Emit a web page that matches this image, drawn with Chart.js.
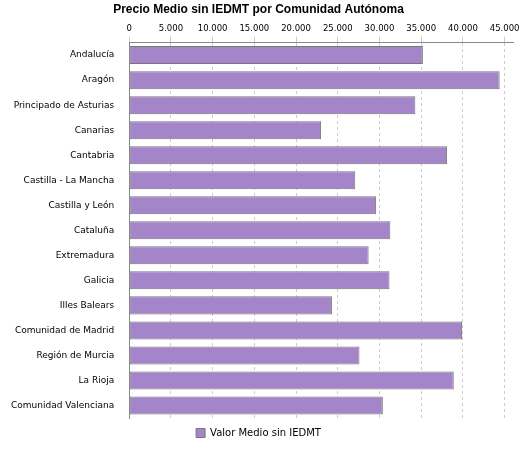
<!DOCTYPE html>
<html><head><meta charset="utf-8">
<script src="https://cdn.jsdelivr.net/npm/chart.js@4/dist/chart.umd.min.js"></script>
<style>body{margin:0;background:#fff}#w{width:525px;height:450px}</style></head>
<body><div id="w"><canvas id="c"></canvas></div>
<script>
const categories=["Andalucía","Aragón","Principado de Asturias","Canarias","Cantabria","Castilla - La Mancha","Castilla y León","Cataluña","Extremadura","Galicia","Illes Balears","Comunidad de Madrid","Región de Murcia","La Rioja","Comunidad Valenciana"];
const values=[35200,44400,34300,23000,38100,27100,29600,31300,28700,31200,24300,39900,27600,38900,30400];
const seriesName="Valor Medio sin IEDMT";
function fmt(v){const s=String(Math.round(v));return s.replace(/\B(?=(\d{3})+(?!\d))/g,'.');}
new Chart(document.getElementById('c'),{type:'bar',
data:{labels:categories,datasets:[{label:seriesName,data:values,backgroundColor:'#a585c9',borderColor:'#777',borderWidth:1,borderSkipped:false,categoryPercentage:1,barPercentage:0.72}]},
options:{indexAxis:'y',responsive:true,maintainAspectRatio:false,animation:false,
layout:{padding:{left:4,right:12,top:0,bottom:2}},
plugins:{title:{display:true,text:'Precio Medio sin IEDMT por Comunidad Autónoma',color:'#000',font:{family:'Liberation Sans',size:12,weight:'bold'},padding:{top:2,bottom:4}},
legend:{position:'bottom',labels:{color:'#000',boxWidth:9,boxHeight:9,font:{family:'DejaVu Sans',size:10}}},tooltip:{enabled:false}},
scales:{x:{position:'top',min:0,max:46000,afterBuildTicks:a=>{a.ticks=[0,5000,10000,15000,20000,25000,30000,35000,40000,45000].map(v=>({value:v}));},
ticks:{autoSkip:false,maxRotation:0,color:'#000',font:{family:'DejaVu Sans',size:8.5},callback:v=>fmt(v)},
grid:{color:'#ccc',tickLength:6,drawTicks:true},border:{display:true,color:'#888',dash:[3,3]}},
y:{ticks:{color:'#000',font:{family:'DejaVu Sans',size:9},padding:7},grid:{display:false},border:{color:'#888'},offset:true}}}});
</script></body></html>
